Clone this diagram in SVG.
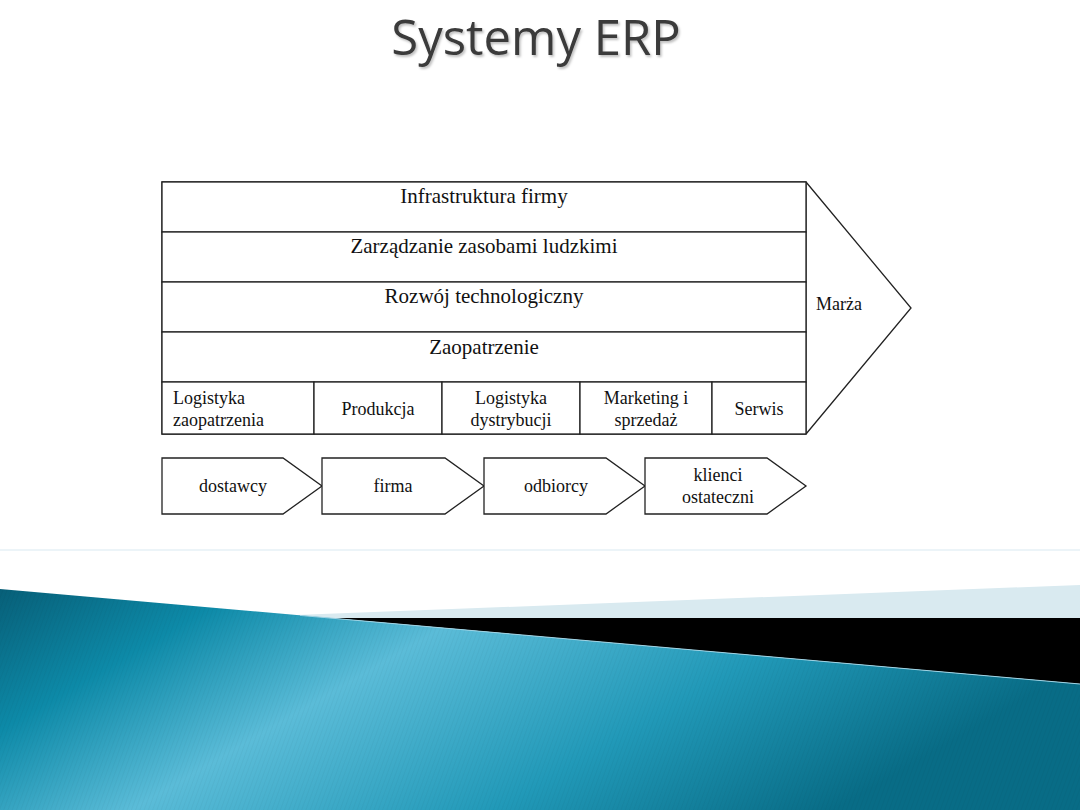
<svg xmlns="http://www.w3.org/2000/svg" width="1080" height="810" viewBox="0 0 1080 810">
<style>
.ln{fill:#fff;stroke:#222;stroke-width:1.3}
.t{font-family:"Liberation Serif","Times New Roman",serif;fill:#111;font-size:21px;text-anchor:middle}
.s{font-size:18px}
.l{text-anchor:start}
.title{font-family:"Open Sans","DejaVu Sans",sans-serif;font-size:49px;fill:#3a3a3a;text-anchor:middle}
</style>
<defs>
<linearGradient id="teal" x1="0" y1="0" x2="1" y2="0.35">
<stop offset="0" stop-color="#075f78"/>
<stop offset="0.2" stop-color="#0d8aa8"/>
<stop offset="0.42" stop-color="#5bbcd8"/>
<stop offset="0.72" stop-color="#2199b8"/>
<stop offset="1" stop-color="#086c86"/>
</linearGradient>
<pattern id="str" width="4" height="4" patternUnits="userSpaceOnUse" patternTransform="rotate(20)">
<line x1="0" y1="0" x2="0" y2="4" stroke="#000" stroke-opacity="0.06" stroke-width="1"/>
</pattern>
<filter id="sh" x="-5%" y="-20%" width="110%" height="140%">
<feDropShadow dx="1.5" dy="2" stdDeviation="1.2" flood-color="#000" flood-opacity="0.25"/>
</filter>
</defs>
<rect width="1080" height="810" fill="#fff"/>
<line x1="0" y1="550" x2="1080" y2="550" stroke="#e6f1f6" stroke-width="1.5"/>
<polygon points="296,615 1080,585 1080,618 296,618" fill="#d9eaf0"/>
<polygon points="330,618 1080,618 1080,684 330,618" fill="#000"/>
<polygon points="0,589 1080,684 1080,810 0,810" fill="url(#teal)"/>
<polygon points="0,589 1080,684 1080,810 0,810" fill="url(#str)"/>
<line x1="300" y1="615.4" x2="1080" y2="684" stroke="#9fd3e4" stroke-width="1"/>
<text class="title" x="536" y="55" filter="url(#sh)">Systemy ERP</text>

<g id="value-chain">
<polygon class="ln" points="162,182 806,182 911,308 806,434 162,434"/>
<line class="ln" x1="806" y1="182" x2="806" y2="434"/>
</g>
<g id="infrastruktura"><rect class="ln" x="162" y="182" width="644" height="50"/><text class="t" x="484" y="203">Infrastruktura firmy</text></g>
<g id="zarzadzanie"><rect class="ln" x="162" y="232" width="644" height="50"/><text class="t" x="484" y="253">Zarządzanie zasobami ludzkimi</text></g>
<g id="rozwoj"><rect class="ln" x="162" y="282" width="644" height="50"/><text class="t" x="484" y="303">Rozwój technologiczny</text></g>
<g id="zaopatrzenie"><rect class="ln" x="162" y="332" width="644" height="50"/><text class="t" x="484" y="354">Zaopatrzenie</text></g>
<g id="logistyka-zaop"><rect class="ln" x="162" y="382" width="152" height="52"/><text class="t s l" x="173" y="404">Logistyka</text><text class="t s l" x="173" y="426">zaopatrzenia</text></g>
<g id="produkcja"><rect class="ln" x="314" y="382" width="128" height="52"/><text class="t s" x="378" y="415">Produkcja</text></g>
<g id="logistyka-dyst"><rect class="ln" x="442" y="382" width="138" height="52"/><text class="t s" x="511" y="404">Logistyka</text><text class="t s" x="511" y="426">dystrybucji</text></g>
<g id="marketing"><rect class="ln" x="580" y="382" width="132" height="52"/><text class="t s" x="646" y="404">Marketing i</text><text class="t s" x="646" y="426">sprzedaż</text></g>
<g id="serwis"><rect class="ln" x="712" y="382" width="94" height="52"/><text class="t s" x="759" y="415">Serwis</text></g>
<g id="marza"><text class="t s l" x="816" y="310">Marża</text></g>

<g id="dostawcy"><polygon class="ln" points="162,458 283,458 322,486 283,514 162,514"/><text class="t s" x="233" y="492">dostawcy</text></g>
<g id="firma"><polygon class="ln" points="322,458 445,458 484,486 445,514 322,514"/><text class="t s" x="393" y="492">firma</text></g>
<g id="odbiorcy"><polygon class="ln" points="484,458 606,458 645,486 606,514 484,514"/><text class="t s" x="556" y="492">odbiorcy</text></g>
<g id="klienci"><polygon class="ln" points="645,458 767,458 806,486 767,514 645,514"/><text class="t s" x="718" y="481">klienci</text><text class="t s" x="718" y="503">ostateczni</text></g>
<g id="connectors"></g>
</svg>
